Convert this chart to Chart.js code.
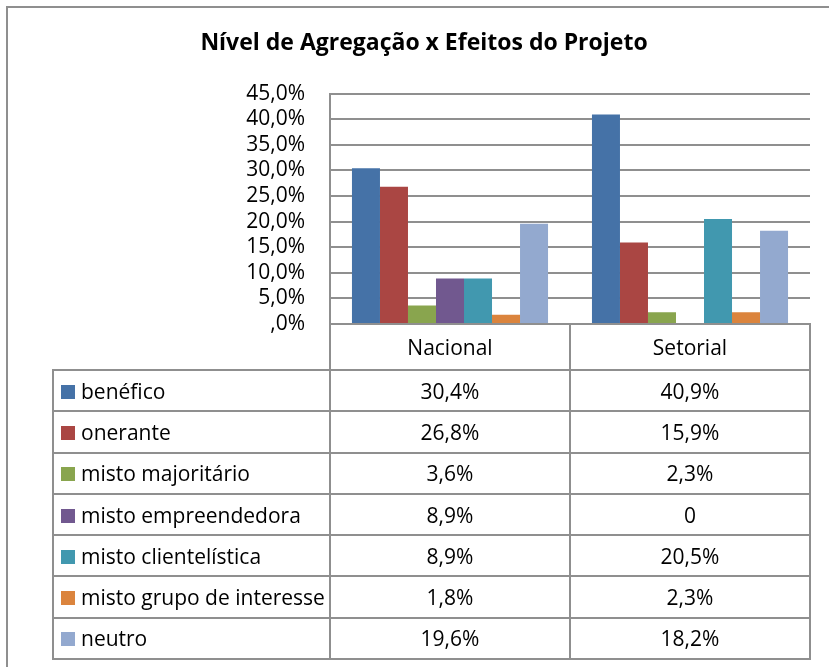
<!DOCTYPE html>
<html lang="pt">
<head>
<meta charset="utf-8">
<title>Nível de Agregação x Efeitos do Projeto</title>
<script src="https://cdn.jsdelivr.net/npm/chart.js@4.4.1/dist/chart.umd.min.js"></script>
<style>
  html, body { margin: 0; padding: 0; background: #fff; }
  #wrap { position: relative; width: 829px; height: 667px; overflow: hidden; }
  #frame {
    position: absolute; left: 6px; top: 6px; right: -10px; bottom: -10px;
    border-left: 2px solid #8f8f8f; border-top: 2px solid #8f8f8f;
  }
  #chart { position: absolute; left: 0; top: 0; }
  #dataTable {
    position: absolute; border-collapse: collapse; table-layout: fixed;
    font-family: 'Open Sans', sans-serif; font-size: 21px; color: #000;
  }
  #dataTable td { border: 2px solid #8f8f8f; padding: 0; text-align: center; white-space: nowrap; overflow: hidden; }
  #dataTable td.blank { border-top: none; border-left: none; }
  #dataTable td.label { text-align: left; padding-left: 7px; }
  .swatch { display: inline-block; width: 14px; height: 14px; margin-right: 6px; vertical-align: 0px; }
</style>
</head>
<body>
<div id="wrap">
  <div id="frame"></div>
  <canvas id="chart" width="829" height="667"></canvas>
  <table id="dataTable"></table>
</div>
<script>
const categories = ['Nacional', 'Setorial'];

const seriesNames = [
  'benéfico',
  'onerante',
  'misto majoritário',
  'misto empreendedora',
  'misto clientelística',
  'misto grupo de interesse',
  'neutro',
];

const beneficoValues = [30.4, 40.9];
const oneranteValues = [26.8, 15.9];
const majoritarioValues = [3.6, 2.3];
const empreendedoraValues = [8.9, 0];
const clientelisticaValues = [8.9, 20.5];
const grupoInteresseValues = [1.8, 2.3];
const neutroValues = [19.6, 18.2];

const seriesValues = [
  beneficoValues,
  oneranteValues,
  majoritarioValues,
  empreendedoraValues,
  clientelisticaValues,
  grupoInteresseValues,
  neutroValues,
];

const seriesColors = ['#4572A7', '#AA4643', '#89A54E', '#71588F', '#4198AF', '#DB843D', '#93A9CF'];

const yTickLabels = [',0%', '5,0%', '10,0%', '15,0%', '20,0%', '25,0%', '30,0%', '35,0%', '40,0%', '45,0%'];
const yMax = 45;
const yStep = 5;

const gridColor = '#8f8f8f';
const labelColumnLeft = 53;
const headerRowHeight = 46;
const dataRowHeight = 41.3;

function formatCell(value) {
  if (value === 0) return '0';
  return value.toFixed(1).replace('.', ',') + '%';
}

function buildTable() {
  const table = document.getElementById('dataTable');
  let html = '<colgroup><col id="colLabel">';
  categories.forEach(() => { html += '<col class="colValue">'; });
  html += '</colgroup>';
  html += `<tr style="height:${headerRowHeight}px"><td class="blank"></td>`;
  categories.forEach((cat) => { html += `<td>${cat}</td>`; });
  html += '</tr>';
  seriesNames.forEach((name, i) => {
    html += `<tr style="height:${dataRowHeight}px"><td class="label"><span class="swatch" style="background:${seriesColors[i]}"></span>${name}</td>`;
    seriesValues[i].forEach((v) => { html += `<td>${formatCell(v)}</td>`; });
    html += '</tr>';
  });
  table.innerHTML = html;
}

function placeTable(chart) {
  const table = document.getElementById('dataTable');
  const area = chart.chartArea;
  const catWidth = (area.right - area.left) / categories.length;
  table.style.left = (labelColumnLeft - 1) + 'px';
  table.style.top = (area.bottom - 1) + 'px';
  table.style.width = (area.right - labelColumnLeft + 2) + 'px';
  document.getElementById('colLabel').style.width = (area.left - labelColumnLeft) + 'px';
  table.querySelectorAll('.colValue').forEach((col) => { col.style.width = catWidth + 'px'; });
}

buildTable();

const tablePlacer = {
  id: 'tablePlacer',
  afterLayout(chart) { placeTable(chart); },
};

const ctx = document.getElementById('chart').getContext('2d');
const chart = new Chart(ctx, {
  type: 'bar',
  data: {
    labels: categories,
    datasets: seriesNames.map((name, i) => ({
      label: name,
      data: seriesValues[i],
      backgroundColor: seriesColors[i],
      borderWidth: 0,
      categoryPercentage: 0.817,
      barPercentage: 1.0,
    })),
  },
  options: {
    responsive: false,
    animation: false,
    // left padding shifts the title centre to match the original
    layout: { padding: { left: 38, right: 19, top: 0, bottom: 343 } },
    plugins: {
      legend: { display: false },
      tooltip: { enabled: false },
      title: {
        display: true,
        text: 'Nível de Agregação x Efeitos do Projeto',
        color: '#000',
        font: { family: 'Open Sans', size: 23, weight: 'bold' },
        padding: { top: 30, bottom: 36 },
      },
    },
    scales: {
      x: { display: false },
      y: {
        min: 0,
        max: yMax,
        ticks: {
          stepSize: yStep,
          autoSkip: false,
          color: '#000',
          font: { family: 'Open Sans', size: 21 },
          padding: 25,
          callback: (value, index) => yTickLabels[index],
        },
        grid: { color: gridColor, lineWidth: 2, drawTicks: false },
        border: { display: true, color: gridColor, width: 2 },
        afterFit: (scale) => { scale.width = 292; },
      },
    },
  },
  plugins: [tablePlacer],
});
</script>
</body>
</html>
